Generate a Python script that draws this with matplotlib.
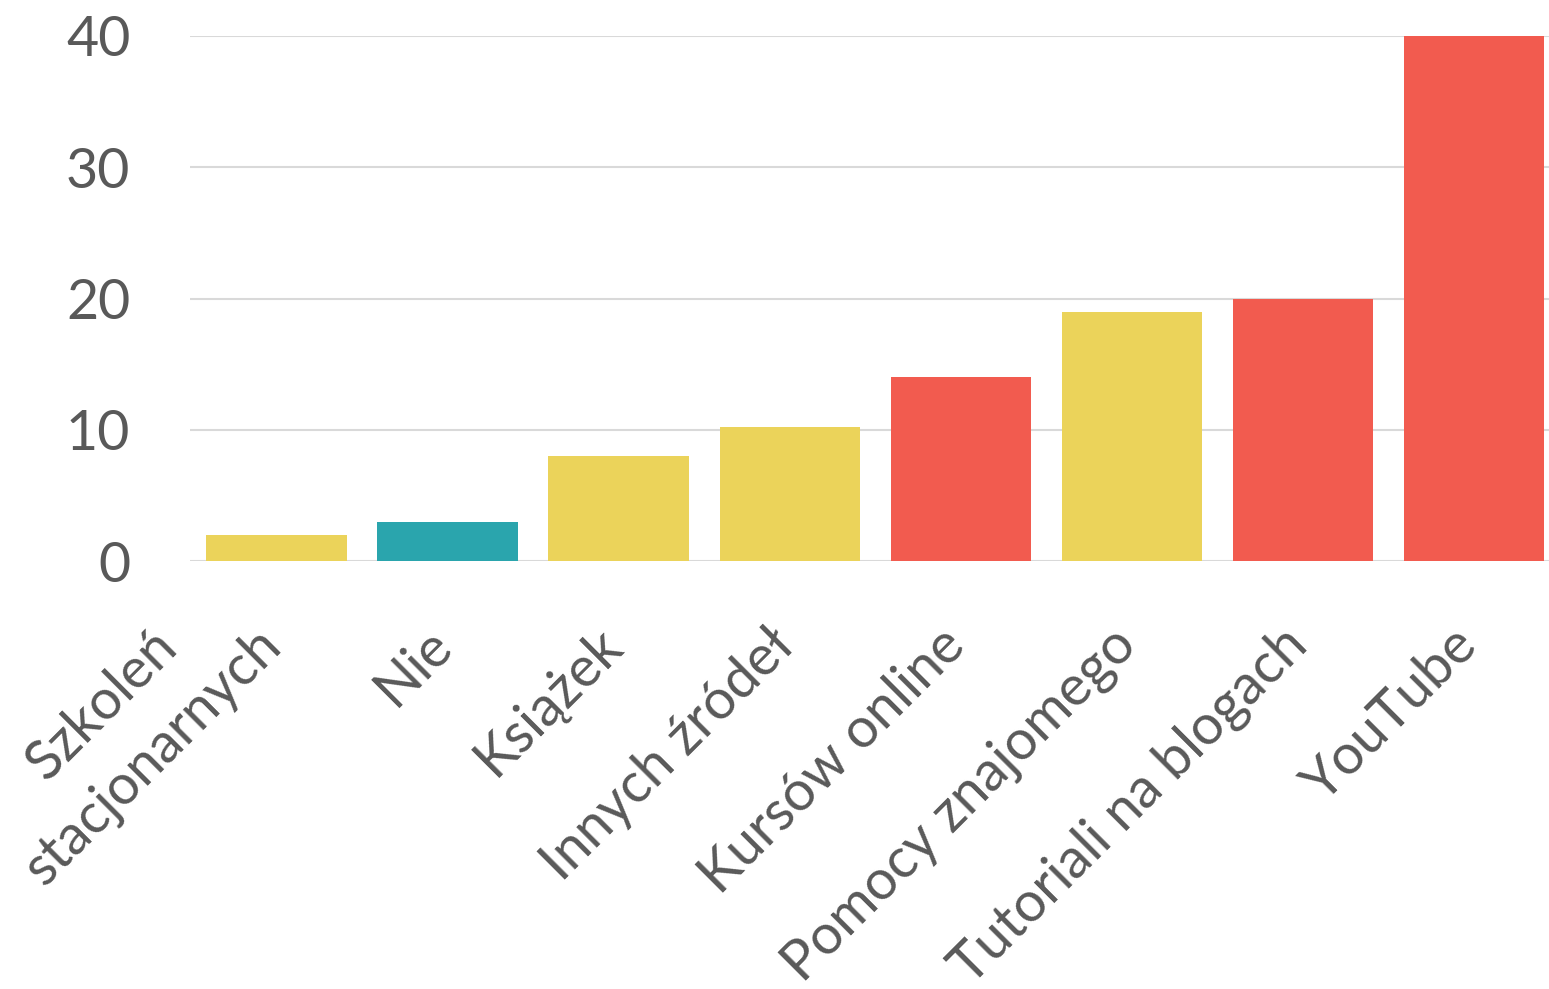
import matplotlib
matplotlib.use("Agg")
import matplotlib.pyplot as plt
import matplotlib.transforms as mtransforms

# dane z wykresu
kategorie = ["Szkoleń\nstacjonarnych", "Nie", "Książek", "Innych źródeł",
             "Kursów online", "Pomocy znajomego", "Tutoriali na blogach", "YouTube"]
wartosci = [2, 3, 8, 10.2, 14, 19, 20, 40]
grupy = ["tak", "nie", "tak", "tak", "top", "tak", "top", "top"]
yticks = [0, 10, 20, 30, 40]

kolory = {"tak": "#EBD35A", "nie": "#2AA5AD", "top": "#F25B4F"}
szary = "#595959"

plt.rcParams['font.family'] = ['Lato', 'DejaVu Sans']

fig = plt.figure(figsize=(15.49, 9.89), dpi=100)
ax = fig.add_axes([190/1549, 1 - 561/989, 1 - 190/1549, (561 - 36)/989])

x = list(range(len(kategorie)))
ax.bar(x, wartosci, width=0.82, color=[kolory[g] for g in grupy], zorder=3)

ax.set_xlim(-0.506, 7.44)
ax.set_ylim(0, 40)
ax.set_yticks(yticks)
ax.set_yticklabels([str(v) for v in yticks])
ax.tick_params(axis='y', length=0, pad=43, labelsize=40, labelcolor=szary)
ax.set_xticks([])
ax.grid(axis='y', color='#D9D9D9', linewidth=1.5, zorder=0)
for s in ax.spines.values():
    s.set_visible(False)

# etykiety osi x obrócone o 45 stopni
trans = mtransforms.blended_transform_factory(ax.transData, ax.transAxes)
przesun = mtransforms.ScaledTranslation(14/100, -94/100, fig.dpi_scale_trans)
for i, kat in enumerate(kategorie):
    ax.text(i, 0, kat, transform=trans + przesun, rotation=45,
            rotation_mode='anchor', ha='right', va='bottom',
            multialignment='center', linespacing=1.5,
            fontsize=40, color=szary, clip_on=False)

fig.savefig("out.png", dpi=100)
